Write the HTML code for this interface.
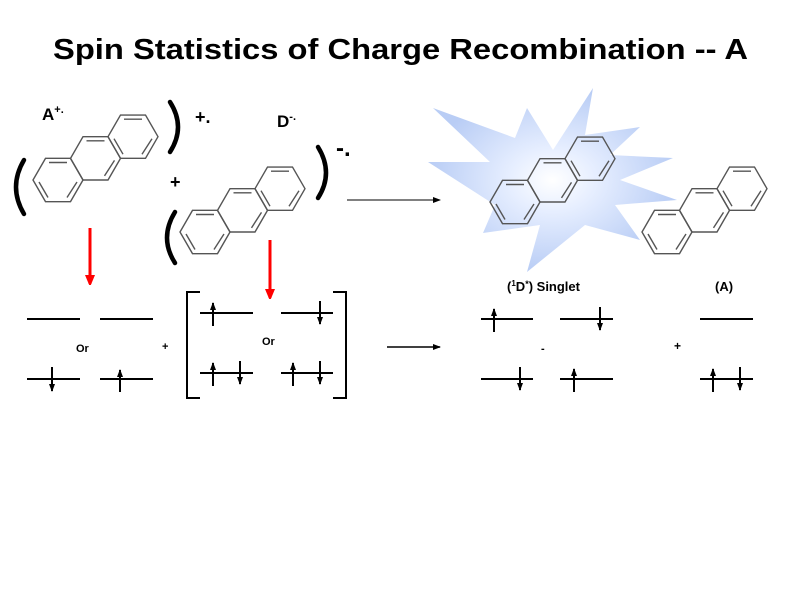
<!DOCTYPE html>
<html><head><meta charset="utf-8"><style>
body{margin:0;background:#fff;width:800px;height:600px;overflow:hidden}
text{font-family:"Liberation Sans",sans-serif;font-weight:bold;fill:#000}
</style></head><body>
<svg width="800" height="600" viewBox="0 0 800 600" xmlns="http://www.w3.org/2000/svg">
<defs>
<radialGradient id="g" cx="0.5" cy="0.5" r="0.5">
<stop offset="0" stop-color="#ffffff"/><stop offset="0.35" stop-color="#e6eeff"/><stop offset="1" stop-color="#b9cdf5"/>
</radialGradient>
<marker id="ah" markerWidth="8" markerHeight="8" refX="7" refY="4" orient="auto" markerUnits="userSpaceOnUse"><path d="M0,1 L8,4 L0,7 Z" fill="#000"/></marker>
<marker id="rh" markerWidth="10" markerHeight="14" refX="9" refY="5" orient="auto" markerUnits="userSpaceOnUse"><path d="M0,0 L12,5 L0,10 Z" fill="#f00"/></marker>
<g id="mol" fill="none" stroke="#555" stroke-width="1.4">
<polygon points="25,0 12.5,21.65 -12.5,21.65 -25,0 -12.5,-21.65 12.5,-21.65"/>
<polygon transform="translate(37.5,-21.65)" points="25,0 12.5,21.65 -12.5,21.65 -25,0 -12.5,-21.65 12.5,-21.65"/>
<polygon transform="translate(75,-43.3)" points="25,0 12.5,21.65 -12.5,21.65 -25,0 -12.5,-21.65 12.5,-21.65"/>
<line x1="-9" y1="-17.5" x2="9" y2="-17.5"/>
<line x1="-19" y1="2" x2="-10" y2="17.5"/>
<line x1="9" y1="17.5" x2="19" y2="2"/>
<g transform="translate(37.5,-21.65)"><line x1="-9" y1="-17.5" x2="9" y2="-17.5"/><line x1="19" y1="2" x2="9" y2="17.5"/></g>
<g transform="translate(75,-43.3)"><line x1="-9" y1="-17.5" x2="9" y2="-17.5"/><line x1="19" y1="2" x2="9" y2="17.5"/><line x1="-10" y1="17.5" x2="-19" y2="2"/></g>
</g>
</defs>
<text x="53" y="59" font-size="29" textLength="695" lengthAdjust="spacingAndGlyphs">Spin Statistics of Charge Recombination -- A</text>

<text x="42" y="120" font-size="17">A<tspan font-size="11" dy="-7">+.</tspan></text>
<use href="#mol" transform="translate(58,180)"/>
<g fill="none" stroke="#000" stroke-width="4.5" stroke-linecap="round">
<path d="M24,160 Q8,187 24,214"/>
<path d="M170,102 Q186,127 170,152"/>
<path d="M318,147 Q334,173 318,198"/>
<path d="M175,212 Q159,238 175,263"/>
</g>
<text x="195" y="123" font-size="18">+.</text>
<text x="170" y="188" font-size="18">+</text>
<text x="277" y="127" font-size="17">D<tspan font-size="11" dy="-7">-.</tspan></text>
<use href="#mol" transform="translate(205,232)"/>
<text x="336" y="156" font-size="24">-.</text>
<line x1="347" y1="200" x2="440" y2="200" stroke="#000" stroke-width="1" marker-end="url(#ah)"/>

<polygon points="433,108 515,138 527,108 553,150 593,88 585,135 640,127 610,155 673,158 620,180 677,200 615,205 640,240 585,225 527,272 540,225 483,233 495,205 428,162 490,162" fill="url(#g)"/>
<use href="#mol" transform="translate(515,202)"/>
<use href="#mol" transform="translate(667,232)"/>

<line x1="90" y1="228" x2="90" y2="284" stroke="#f00" stroke-width="3" marker-end="url(#rh)"/>
<line x1="270" y1="240" x2="270" y2="298" stroke="#f00" stroke-width="3" marker-end="url(#rh)"/>

<g stroke="#000" stroke-width="2" fill="none">
<line x1="27" y1="319" x2="80" y2="319"/><line x1="100" y1="319" x2="153" y2="319"/>
<line x1="27" y1="379" x2="80" y2="379"/><line x1="100" y1="379" x2="153" y2="379"/>
<path d="M200,292 H187 V398 H200"/><path d="M333,292 H346 V398 H333"/>
<line x1="200" y1="313" x2="253" y2="313"/><line x1="281" y1="313" x2="333" y2="313"/>
<line x1="200" y1="373" x2="253" y2="373"/><line x1="281" y1="373" x2="333" y2="373"/>
<line x1="481" y1="319" x2="533" y2="319"/><line x1="560" y1="319" x2="613" y2="319"/>
<line x1="481" y1="379" x2="533" y2="379"/><line x1="560" y1="379" x2="613" y2="379"/>
<line x1="700" y1="319" x2="753" y2="319"/><line x1="700" y1="379" x2="753" y2="379"/>
<line x1="387" y1="347" x2="440" y2="347" stroke-width="1.5" marker-end="url(#ah)"/>
</g>
<g stroke="#000" stroke-width="2">
<line x1="120" y1="392" x2="120" y2="370" marker-end="url(#ah)"/>
<line x1="52" y1="367" x2="52" y2="391" marker-end="url(#ah)"/>
<line x1="213" y1="326" x2="213" y2="303" marker-end="url(#ah)"/>
<line x1="320" y1="301" x2="320" y2="324" marker-end="url(#ah)"/>
<line x1="213" y1="386" x2="213" y2="363" marker-end="url(#ah)"/>
<line x1="240" y1="361" x2="240" y2="384" marker-end="url(#ah)"/>
<line x1="293" y1="386" x2="293" y2="363" marker-end="url(#ah)"/>
<line x1="320" y1="361" x2="320" y2="384" marker-end="url(#ah)"/>
<line x1="494" y1="332" x2="494" y2="309" marker-end="url(#ah)"/>
<line x1="600" y1="307" x2="600" y2="330" marker-end="url(#ah)"/>
<line x1="520" y1="367" x2="520" y2="390" marker-end="url(#ah)"/>
<line x1="574" y1="392" x2="574" y2="369" marker-end="url(#ah)"/>
<line x1="713" y1="392" x2="713" y2="369" marker-end="url(#ah)"/>
<line x1="740" y1="367" x2="740" y2="390" marker-end="url(#ah)"/>
</g>
<text x="76" y="352" font-size="11">Or</text>
<text x="262" y="345" font-size="11">Or</text>
<text x="162" y="350" font-size="11" font-weight="normal">+</text>
<text x="541" y="352" font-size="11" font-weight="normal">-</text>
<text x="674" y="350" font-size="12">+</text>
<text x="507" y="291" font-size="13">(<tspan font-size="8" dy="-5">1</tspan><tspan dy="5">D</tspan><tspan font-size="9" dy="-4">*</tspan><tspan dy="4">) Singlet</tspan></text>
<text x="715" y="291" font-size="13">(A)</text>
</svg>
</body></html>
